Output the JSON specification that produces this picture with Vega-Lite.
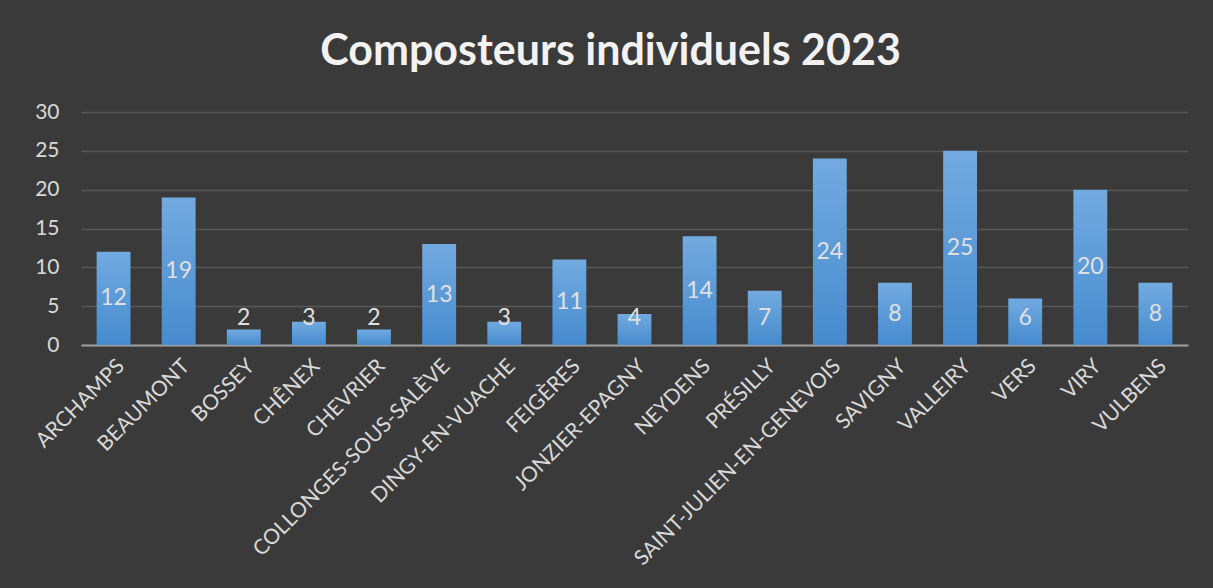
{
  "$schema": "https://vega.github.io/schema/vega-lite/v6.json",
  "width": 1107,
  "height": 233,
  "autosize": {"type": "none"},
  "padding": {"left": 81, "top": 112, "right": 25, "bottom": 243},
  "background": "#3a3a3a",
  "config": {
    "view": {"stroke": null},
    "font": "Lato",
    "axisY": {
      "values": [0, 5, 10, 15, 20, 25, 30],
      "labelFontSize": 21,
      "labelColor": "#d9d9d9",
      "labelFont": "Lato",
      "labelPadding": 22,
      "labelOverlap": false,
      "ticks": false,
      "domain": false,
      "gridColor": "#575757",
      "gridWidth": 1.5,
      "title": null
    }
  },
  "title": {
    "text": "Composteurs individuels 2023",
    "font": "Lato",
    "fontSize": 43,
    "fontWeight": "bold",
    "color": "#f2f2f2",
    "anchor": "middle",
    "frame": "group",
    "baseline": "alphabetic",
    "offset": 44,
    "dx": -24,
    "dy": 51
  },
  "data": {
    "values": [
      {"commune": "ARCHAMPS", "n": 12},
      {"commune": "BEAUMONT", "n": 19},
      {"commune": "BOSSEY", "n": 2},
      {"commune": "CHÊNEX", "n": 3},
      {"commune": "CHEVRIER", "n": 2},
      {"commune": "COLLONGES-SOUS-SALÈVE", "n": 13},
      {"commune": "DINGY-EN-VUACHE", "n": 3},
      {"commune": "FEIGÈRES", "n": 11},
      {"commune": "JONZIER-EPAGNY", "n": 4},
      {"commune": "NEYDENS", "n": 14},
      {"commune": "PRÉSILLY", "n": 7},
      {"commune": "SAINT-JULIEN-EN-GENEVOIS", "n": 24},
      {"commune": "SAVIGNY", "n": 8},
      {"commune": "VALLEIRY", "n": 25},
      {"commune": "VERS", "n": 6},
      {"commune": "VIRY", "n": 20},
      {"commune": "VULBENS", "n": 8}
    ]
  },
  "encoding": {
    "x": {
      "field": "commune",
      "type": "nominal",
      "sort": null,
      "title": null,
      "scale": {"paddingInner": 0.48, "paddingOuter": 0.24},
      "axis": {
        "labelAngle": -45,
        "labelFontSize": 21,
        "labelColor": "#d9d9d9",
        "labelFont": "Lato",
        "labelPadding": 10,
        "ticks": false,
        "domainColor": "#a0a0a0",
        "domainWidth": 2,
        "labelLimit": 400
      }
    }
  },
  "layer": [
    {
      "mark": {
        "type": "bar",
        "color": {
          "gradient": "linear",
          "x1": 0, "y1": 0, "x2": 0, "y2": 1,
          "stops": [
            {"offset": 0, "color": "#72aae0"},
            {"offset": 1, "color": "#468bce"}
          ]
        }
      },
      "encoding": {
        "y": {
          "field": "n",
          "type": "quantitative",
          "title": null,
          "scale": {"domain": [0, 30]}
        }
      }
    },
    {
      "transform": [{"calculate": "max(datum.n / 2, 3.5)", "as": "ly"}],
      "mark": {
        "type": "text",
        "fontSize": 23,
        "color": "#e0e0e0",
        "baseline": "middle",
        "font": "Lato"
      },
      "encoding": {
        "y": {"field": "ly", "type": "quantitative", "title": null},
        "text": {"field": "n", "type": "quantitative"}
      }
    }
  ]
}
